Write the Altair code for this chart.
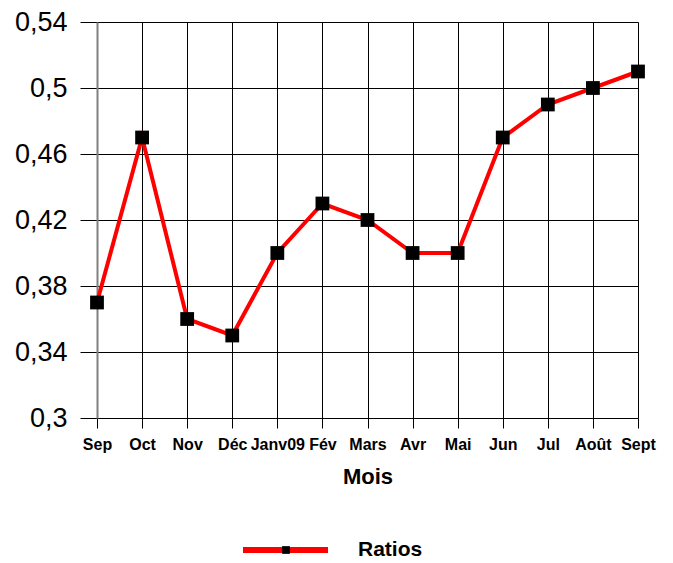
import altair as alt
import pandas as pd

months = ["Sep", "Oct", "Nov", "Déc", "Janv09", "Fév", "Mars", "Avr", "Mai", "Jun", "Jul", "Août", "Sept"]
ratios = [0.37, 0.47, 0.36, 0.35, 0.40, 0.43, 0.42, 0.40, 0.40, 0.47, 0.49, 0.50, 0.51]
y_ticks = [0.30, 0.34, 0.38, 0.42, 0.46, 0.50, 0.54]
legend_label = ["Ratios"]

df = pd.DataFrame({"Mois": months, "Ratio": ratios})
FONT = "Liberation Sans"

x_enc = alt.X(
    "Mois:N", sort=months, title="Mois",
    scale=alt.Scale(type="point", padding=0),
    axis=alt.Axis(
        grid=True, gridColor="black", gridWidth=1, gridOpacity=1,
        domain=False, tickColor="black", tickSize=10, tickWidth=1,
        labelAngle=0, labelFont=FONT, labelFontSize=16, labelFontWeight="bold",
        labelColor="black", labelPadding=8, labelOverlap=False, labelBound=False,
        titleFont=FONT, titleFontSize=22, titleFontWeight="bold", titleColor="black",
        titlePadding=14,
    ),
)
y_enc = alt.Y(
    "Ratio:Q", title=None,
    scale=alt.Scale(domain=[0.3, 0.54], nice=False, zero=False),
    axis=alt.Axis(
        values=y_ticks, grid=True, gridColor="black", gridWidth=1, gridOpacity=1,
        domain=True, domainColor="#808080", domainWidth=2,
        tickColor="black", tickSize=17, tickWidth=1,
        labelFont=FONT, labelFontSize=27, labelColor="black", labelPadding=13,
        labelExpr="replace(format(datum.value, '.2~f'), '.', ',')",
    ),
)

base = alt.Chart(df)
line = base.mark_line(color="#ff0000", strokeWidth=4).encode(x=x_enc, y=y_enc)
pts = base.mark_square(color="black", size=190, opacity=1).encode(x=x_enc, y=y_enc)

leg_df = pd.DataFrame({"label": legend_label})
leg_line = alt.Chart(leg_df).mark_rule(color="#ff0000", strokeWidth=6).encode(
    x=alt.value(146), x2=alt.value(231), y=alt.value(528)
)
leg_sq = alt.Chart(leg_df).mark_square(color="black", size=60, opacity=1).encode(
    x=alt.value(189), y=alt.value(528)
)
leg_txt = alt.Chart(leg_df).mark_text(
    align="left", baseline="middle", font=FONT, fontSize=21, fontWeight="bold", color="black"
).encode(x=alt.value(261), y=alt.value(528), text="label:N")

chart = alt.layer(line, pts, leg_line, leg_sq, leg_txt).properties(
    width=541, height=396,
    autosize=alt.AutoSizeParams(type="none"),
    padding={"left": 89, "top": 14, "right": 27, "bottom": 145},
).configure_view(stroke=None).configure(background="white")

chart.save("out.html", embed_options={"renderer": "svg", "actions": False})
